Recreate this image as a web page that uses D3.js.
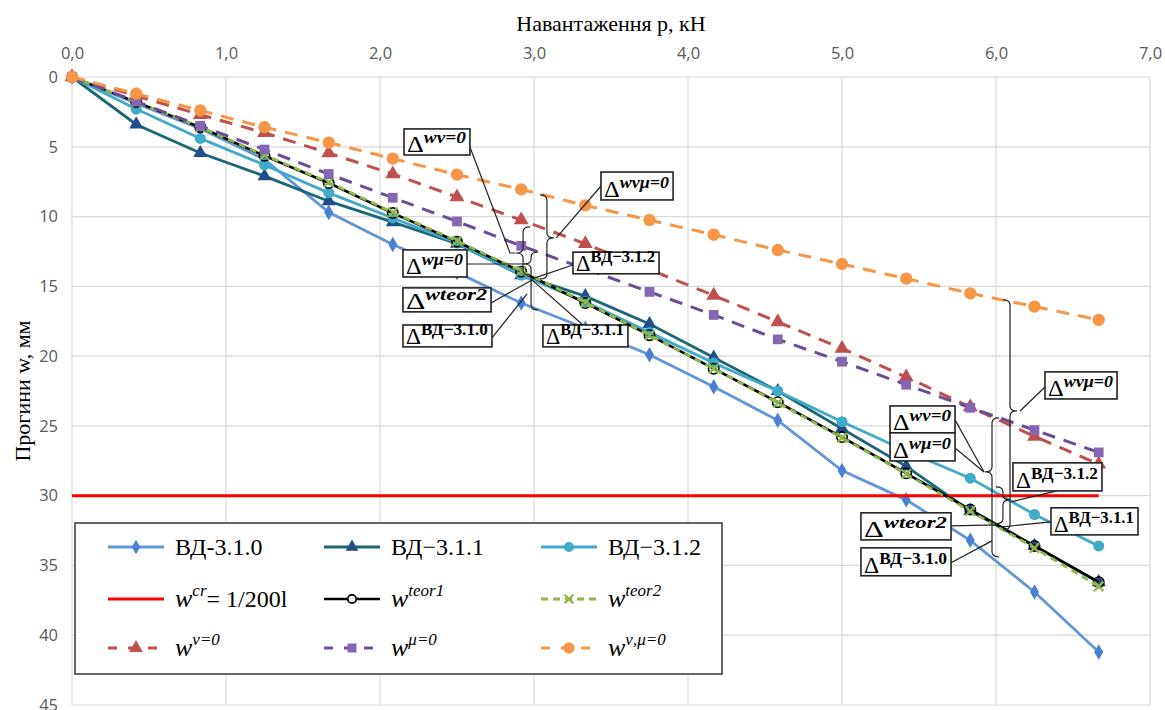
<!DOCTYPE html>
<html><head><meta charset="utf-8">
<script src="https://cdn.jsdelivr.net/npm/d3@7"></script>
<style>body{margin:0;background:#fff}svg{display:block}</style>
</head><body><svg id="c" width="1165" height="710"></svg>
<script>
// ---- data ----
const loads  = [0, 0.417, 0.833, 1.25, 1.667, 2.083, 2.5, 2.917, 3.333, 3.75, 4.167, 4.583, 5.0, 5.417, 5.833, 6.25, 6.667];
const vd310  = [0, 1.9, 3.7, 5.9, 9.7, 12.0, 14.0, 16.2, 18.0, 19.9, 22.2, 24.6, 28.2, 30.3, 33.2, 36.9, 41.2];
const vd311  = [0, 3.4, 5.45, 7.1, 8.9, 10.4, 11.95, 14.2, 15.7, 17.7, 20.1, 22.5, 25.2, 27.9, 31.1, 33.6, 36.2];
const vd312  = [0, 2.3, 4.4, 6.3, 8.3, 10.1, 11.9, 14.2, 16.1, 18.3, 20.5, 22.5, 24.7, 26.8, 28.75, 31.35, 33.6];
const teor1  = [0, 1.8, 3.6, 5.65, 7.6, 9.75, 11.8, 13.95, 16.2, 18.5, 20.9, 23.3, 25.8, 28.4, 31.0, 33.6, 36.2];
const teor2  = [0, 1.8, 3.6, 5.6, 7.55, 9.7, 11.75, 13.9, 16.15, 18.5, 20.9, 23.35, 25.85, 28.45, 31.1, 33.75, 36.5];
const nu0    = [0, 1.35, 2.7, 4.0, 5.45, 6.95, 8.6, 10.25, 11.95, 13.8, 15.65, 17.55, 19.45, 21.5, 23.65, 25.75, 27.75];
const mu0    = [0, 1.75, 3.5, 5.2, 6.95, 8.65, 10.35, 12.1, 13.75, 15.4, 17.05, 18.8, 20.4, 22.05, 23.7, 25.3, 26.9];
const numu0  = [0, 1.2, 2.4, 3.6, 4.7, 5.85, 7.0, 8.05, 9.2, 10.25, 11.3, 12.4, 13.4, 14.45, 15.5, 16.45, 17.4];
const wcrLoads = [0, 6.667];
const wcrValues = [30, 30];
const xTicks = [0, 1, 2, 3, 4, 5, 6, 7];
const yTicks = [0, 5, 10, 15, 20, 25, 30, 35, 40, 45];
const xTitle = "Навантаження р, кН";
const yTitle = "Прогини w, мм";

// annotation boxes: [p1, w1, p2, w2], superscript, italic
const annBoxes = [
  [2.156, 3.72, 2.584, 5.59, "wν=0", true],
  [3.435, 6.81, 3.903, 8.81, "wνμ=0", true],
  [2.149, 12.39, 2.565, 14.33, "wμ=0", true],
  [3.253, 12.55, 3.812, 14.1, "ВД−3.1.2", false],
  [2.149, 15.11, 2.721, 16.83, "wteor2", true],
  [2.149, 17.77, 2.727, 19.34, "ВД−3.1.0", false],
  [3.058, 17.77, 3.610, 19.34, "ВД−3.1.1", false],
  [5.312, 23.57, 5.734, 25.50, "wν=0", true],
  [5.312, 25.50, 5.734, 27.51, "wμ=0", true],
  [6.318, 21.13, 6.786, 23.07, "wνμ=0", true],
  [6.110, 27.65, 6.688, 29.66, "ВД−3.1.2", false],
  [6.357, 30.87, 6.922, 32.81, "ВД−3.1.1", false],
  [5.123, 31.23, 5.708, 33.17, "wteor2", true],
  [5.123, 33.74, 5.708, 35.74, "ВД−3.1.0", false]
];
// braces: [p, w1, w2, wCusp, dir]
const annBraces = [
  [3.084, 8.45, 14.47, 11.53, 1],
  [2.929, 10.74, 14.18, 12.61, -1],
  [2.981, 12.54, 16.69, 13.40, -1],
  [6.091, 15.97, 32.45, 23.93, 1],
  [5.974, 24.43, 34.38, 28.30, -1],
  [6.045, 29.37, 32.02, 30.30, 1]
];
// leader lines
const annLeaders = [
  [[2.584, 5.01], [2.844, 12.61], [2.880, 12.61]],
  [[3.435, 7.81], [3.145, 11.53]],
  [[2.565, 13.40], [2.942, 13.40]],
  [[3.253, 13.47], [2.987, 14.47]],
  [[2.721, 16.19], [2.987, 14.54]],
  [[2.727, 18.70], [2.955, 15.54]],
  [[3.318, 17.77], [2.987, 14.54]],
  [[6.318, 22.21], [6.156, 23.93]],
  [[5.734, 24.57], [5.922, 28.30]],
  [[5.734, 26.58], [5.922, 28.30]],
  [[6.396, 29.66], [6.100, 30.44]],
  [[6.357, 31.88], [6.045, 32.23]],
  [[5.708, 32.16], [6.006, 32.09]],
  [[5.708, 34.81], [5.974, 33.24]]
];

// ---- chart ----
const svg = d3.select("#c");
const x = d3.scaleLinear().domain([0, 7]).range([72, 1150]);
const y = d3.scaleLinear().domain([0, 45]).range([77, 705]);
const grid = svg.append("g").attr("stroke", "#d9d9d9").attr("stroke-width", 1.2);
grid.selectAll(".v").data(xTicks).join("line")
  .attr("x1", d => x(d)).attr("x2", d => x(d)).attr("y1", y(0)).attr("y2", y(45));
grid.selectAll(".h").data(yTicks).join("line")
  .attr("y1", d => y(d)).attr("y2", d => y(d)).attr("x1", x(0)).attr("x2", x(7));

const ax = svg.append("g").attr("transform", `translate(0,${y(0)})`)
  .call(d3.axisTop(x).tickValues(xTicks).tickSize(0).tickPadding(18).tickFormat(d => d.toFixed(1).replace(".", ",")));
const ay = svg.append("g").attr("transform", `translate(${x(0)},0)`)
  .call(d3.axisLeft(y).tickValues(yTicks).tickSize(0).tickPadding(14));
[ax, ay].forEach(a => {
  a.select(".domain").remove();
  a.selectAll("text").attr("fill", "#595959").style("font-family", "'Open Sans', sans-serif").style("font-size", "16.5px");
});

svg.append("text").attr("x", (x(0) + x(7)) / 2).attr("y", 31).attr("text-anchor", "middle")
  .style("font-family", "'Liberation Serif', serif").style("font-size", "22px").text(xTitle);
svg.append("text").attr("transform", `translate(30,${(y(0) + y(45)) / 2}) rotate(-90)`).attr("text-anchor", "middle")
  .style("font-family", "'Liberation Serif', serif").style("font-size", "22px").text(yTitle);

const series = [
  {v: vd310, c: "#6296d8", mc: "#4a80d0", w: 2.8, dash: null, sym: d3.symbolDiamond, size: 70},
  {v: vd311, c: "#1c6677", mc: "#1f4e8a", w: 2.8, dash: null, sym: d3.symbolTriangle, size: 85},
  {v: vd312, c: "#40aac9", mc: "#40aac9", w: 2.8, dash: null, sym: d3.symbolCircle, size: 95},
  {wcr: true},
  {v: teor1, c: "#000", mc: "#000", w: 2.6, dash: null, sym: d3.symbolCircle, size: 85, open: true},
  {v: teor2, c: "#8db84a", mc: "#8db84a", w: 2.8, dash: "7,5", sym: d3.symbolTimes, size: 60, stroke: true},
  {v: nu0, c: "#c0504d", mc: "#c0504d", w: 3, dash: "13,9", sym: d3.symbolTriangle, size: 95},
  {v: mu0, c: "#6a4c98", mc: "#8466b2", w: 3, dash: "13,9", sym: d3.symbolSquare, size: 95},
  {v: numu0, c: "#f79646", mc: "#f79646", w: 3, dash: "13,9", sym: d3.symbolCircle, size: 120}
];
const line = d3.line().x((d, i) => x(loads[i])).y(d => y(d));
series.forEach(s => {
  if (s.wcr) {
    svg.append("path").datum(wcrValues)
      .attr("d", d3.line().x((d, i) => x(wcrLoads[i])).y(d => y(d)))
      .attr("stroke", "#ff0000").attr("stroke-width", 3).attr("fill", "none");
    return;
  }
  svg.append("path").datum(s.v).attr("d", line).attr("fill", "none")
    .attr("stroke", s.c).attr("stroke-width", s.w).attr("stroke-dasharray", s.dash);
  svg.append("g").selectAll("path").data(s.v).join("path")
    .attr("transform", (d, i) => `translate(${x(loads[i])},${y(d)})`)
    .attr("d", d3.symbol(s.sym, s.size))
    .attr("fill", s.open ? "none" : (s.stroke ? "none" : s.mc))
    .attr("stroke", s.open || s.stroke ? s.mc : "none")
    .attr("stroke-width", s.stroke ? 2.2 : 1.6);
});

// ---- annotations ----
const ann = svg.append("g");
annBraces.forEach(([p, w1, w2, wc, dir]) => {
  const X = x(p), Y1 = y(w1), Y2 = y(w2), Yc = y(wc), a = 7;
  ann.append("path").attr("fill", "none").attr("stroke", "#222").attr("stroke-width", 1.2)
    .attr("d", `M${X - dir * a},${Y1} Q${X},${Y1} ${X},${Y1 + 5} L${X},${Yc - 5} Q${X},${Yc} ${X + dir * a},${Yc} Q${X},${Yc} ${X},${Yc + 5} L${X},${Y2 - 5} Q${X},${Y2} ${X - dir * a},${Y2}`);
});
annLeaders.forEach(pts => {
  ann.append("path").attr("fill", "none").attr("stroke", "#222").attr("stroke-width", 1.2)
    .attr("d", d3.line().x(d => x(d[0])).y(d => y(d[1]))(pts));
});
annBoxes.forEach(([p1, w1, p2, w2, sup, it]) => {
  const X1 = x(p1), X2 = x(p2), Y1 = y(w1), Y2 = y(w2);
  ann.append("rect").attr("x", X1).attr("y", Y1).attr("width", X2 - X1).attr("height", Y2 - Y1)
    .attr("fill", "#fff").attr("stroke", "#222").attr("stroke-width", 1.6);
  const t = ann.append("text").attr("x", X1 + 3).attr("y", Y2 - 3)
    .attr("textLength", X2 - X1 - 7).attr("lengthAdjust", "spacingAndGlyphs")
    .style("font-family", "'Liberation Serif', serif");
  t.append("tspan").style("font-size", "23px").text("Δ");
  t.append("tspan").attr("dy", -9).style("font-size", "17px")
    .style("font-style", it ? "italic" : "normal").style("font-weight", "bold").text(sup);
});

// ---- legend ----
const lg = svg.append("g");
lg.append("rect").attr("x", 75).attr("y", 523).attr("width", 647).attr("height", 151)
  .attr("fill", "#fff").attr("stroke", "#404040").attr("stroke-width", 1.6);
const legendItems = [
  {s: 0, label: ["ВД-3.1.0"]}, {s: 1, label: ["ВД−3.1.1"]}, {s: 2, label: ["ВД−3.1.2"]},
  {s: 3, label: ["w", "cr", "= 1/200l"]}, {s: 4, label: ["w", "teor1"]}, {s: 5, label: ["w", "teor2"]},
  {s: 6, label: ["w", "ν=0"]}, {s: 7, label: ["w", "μ=0"]}, {s: 8, label: ["w", "ν,μ=0"]}
];
const colX = [108, 324, 541], rowY = [547, 599, 648];
legendItems.forEach((it, k) => {
  const cx = colX[k % 3], cy = rowY[Math.floor(k / 3)];
  const s = series[it.s];
  if (s.wcr) {
    lg.append("line").attr("x1", cx).attr("x2", cx + 56).attr("y1", cy).attr("y2", cy)
      .attr("stroke", "#ff0000").attr("stroke-width", 3);
  } else {
    lg.append("line").attr("x1", cx).attr("x2", cx + 56).attr("y1", cy).attr("y2", cy)
      .attr("stroke", s.c).attr("stroke-width", s.w).attr("stroke-dasharray", s.dash ? (s.stroke ? "7,5" : "9,11") : null);
    lg.append("path").attr("transform", `translate(${cx + 28},${cy})`)
      .attr("d", d3.symbol(s.sym, s.open ? 55 : s.size * 0.85))
      .attr("fill", s.open ? "#fff" : (s.stroke ? "none" : s.mc))
      .attr("stroke", s.open || s.stroke ? s.mc : "none").attr("stroke-width", s.stroke ? 2.2 : 1.8);
  }
  const t = lg.append("text").attr("x", cx + 67).attr("y", cy + 8)
    .style("font-family", "'Liberation Serif', serif").style("font-size", "24px");
  if (it.label.length === 1) {
    t.text(it.label[0]);
  } else {
    t.append("tspan").style("font-style", "italic").style("font-size", "26px").text(it.label[0]);
    t.append("tspan").attr("dy", -11).style("font-style", "italic").style("font-size", "17px").text(it.label[1]);
    if (it.label[2]) t.append("tspan").attr("dy", 11).text(it.label[2]);
  }
});
</script></body></html>
